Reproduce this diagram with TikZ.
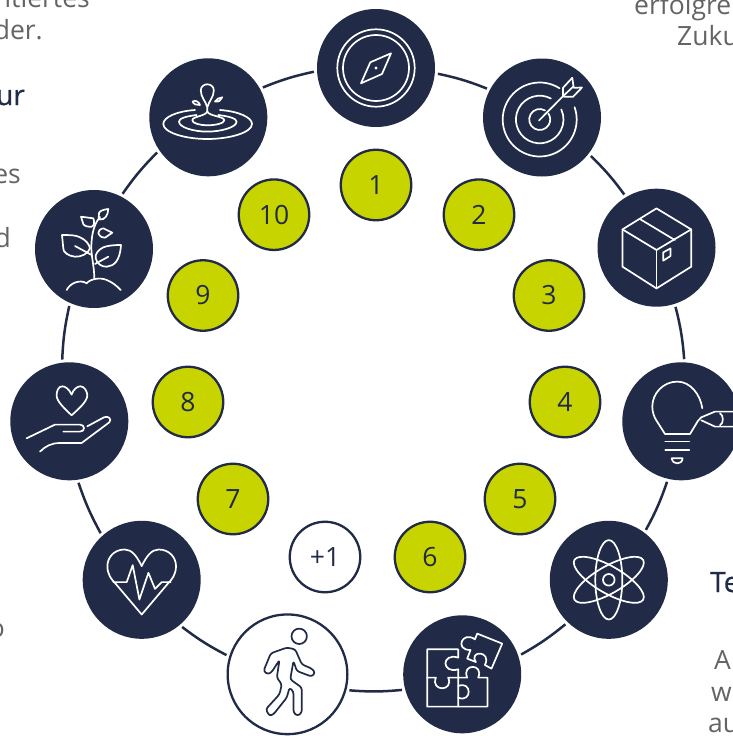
\documentclass[tikz,border=0pt]{standalone}
\usepackage{fontspec}
\setmainfont{Open Sans}
\newfontfamily\headfont[FakeBold=0.6]{Open Sans}
\definecolor{navy}{HTML}{212B47}
\definecolor{lime}{HTML}{C8D400}
\definecolor{greytext}{HTML}{646464}
\tikzset{
  big/.style={circle, fill=navy, minimum size=118pt, inner sep=0pt},
  walkbig/.style={circle, fill=white, draw=navy, line width=2.3pt, minimum size=119.7pt, inner sep=0pt},
  num/.style={circle, fill=lime, draw=navy, line width=2.3pt, minimum size=70.5pt, inner sep=0pt, text=navy, font=\fontsize{26.5}{30}\selectfont},
  plusnum/.style={num, fill=white},
  ringline/.style={navy, line width=2.5pt, shorten >=3pt, shorten <=3pt},
  icon/.style={white, line width=1.7pt, line join=round, line cap=round},
  body/.style={inner sep=0pt, text=greytext, font=\fontsize{26.5}{30}\selectfont},
  head/.style={body, text=navy, font=\fontsize{28}{30}\selectfont\headfont}
}
\begin{document}
\begin{tikzpicture}[x=1pt, y=-1pt]
\useasboundingbox (0,0) rectangle (733,736);
% ring of large circles
\node[big] (big1) at (376,68) {};
\node[big] (big2) at (542,117.5) {};
\node[big] (big3) at (656.5,247.7) {};
\node[big] (big4) at (681.3,421.3) {};
\node[big] (big5) at (608.8,579.8) {};
\node[big] (big6) at (462.2,674.3) {};
\node[walkbig] (big7) at (287.5,674.3) {};
\node[big] (big8) at (141.7,579.8) {};
\node[big] (big9) at (69.3,421.3) {};
\node[big] (big10) at (94,249) {};
\node[big] (big11) at (208.3,117.3) {};
\foreach \a/\b/\s/\e in {1/2/-5.5/152.6,2/3/-38.8/121.2,3/4/-72.7/87.5,4/5/257.8/53,5/6/226.3/18.7,6/7/195/-15.8,7/8/163.5/-50.1,8/9/132.1/-82.6,9/10/97.7/-114.5,10/11/63.7/214.9,11/1/29/183.7}
  \draw[ringline] (big\a.\s) to[bend left=5] (big\b.\e);
% numbers
\foreach \i/\x/\y in {1/376/185,2/479/214.7,3/549/295.5,4/565/402,5/520/499,6/430/557,7/233/499,8/188/402,9/203/295.5,10/274/214.7}
  \node[num] (num\i) at (\x,\y) {\i};
\node[plusnum] (numplus) at (325,557) {+1};
% compass
\begin{scope}[shift={(big1.center)}, icon]
\draw (0,0) circle (38.7);
\draw (0,0) circle (33);
\draw (15,-14.7) -- (-5.7,-5.7) -- (-15,15.3) -- (6,6) -- cycle;
\fill (0,0) circle (1.6);
\end{scope}
% target
\begin{scope}[shift={(big2.center)}, icon]
\draw (-2.3,2) ++(-57.6:37) arc[start angle=-57.6, end angle=-379.5, radius=37];
\draw (-2.3,2) ++(-62:23.8) arc[start angle=-62, end angle=-385, radius=23.8];
\draw (-2.3,2) ++(-60:10.5) arc[start angle=-60, end angle=-395, radius=10.5];
\draw (-3,3) -- (21,-21.3);
\draw (21,-21.3) -- (21,-29.7) -- (30.3,-39.7) -- (31.7,-29.7) -- (40,-30) -- (31,-20.7) -- (22.3,-20.7) -- cycle;
\draw (21,-21.3) -- (31,-30.7);
\end{scope}
% box
\begin{scope}[shift={(big3.center)}, icon]
\draw (0,-39.3) -- (34.7,-18.3) -- (34.7,19) -- (0,40.7) -- (-34,19) -- (-34,-18.3) -- cycle;
\draw (-34,-18.3) -- (0,2.3) -- (34.7,-18.3);
\draw (0,2.3) -- (0,40.7);
\draw (-16,-28.3) -- (18.3,-7.7);
\draw (6.7,4.7) -- (14,0.7) -- (14,8.3) -- (6.7,13) -- cycle;
\end{scope}
% bulb with pencil
\begin{scope}[shift={(big4.center)}, icon]
\draw (21,-13) .. controls (19,-27) and (9,-39.7) .. (-4,-39.7) .. controls (-18,-39.7) and (-29,-28) .. (-29,-14.7) .. controls (-29,-9) and (-27,-4) .. (-25,-1) -- (-16.3,12.7) -- (8.7,12.7) -- (16.7,-0.5) .. controls (17.5,-2) and (18,-3) .. (20,-4) -- (33.7,-9.7) -- (52,-9.7);
\draw (20,-1) -- (33.7,5.3) -- (52,5.3);
\draw (38.7,-8) .. controls (42.5,-6) and (42.5,2) .. (38.7,4);
\draw (-16,20.3) -- (8,20.3);
\draw (-16,29) -- (8,29);
\draw (-9.7,37) -- (1.3,37) .. controls (1,41) and (-2,42) .. (-4,42) .. controls (-6,42) and (-9,41) .. (-9.7,37);
\end{scope}
% atom
\begin{scope}[shift={(big5.center)}, icon]
\draw[rotate=90] (0,0) ellipse (39.7 and 13.5);
\draw[rotate=30] (0,0) ellipse (39.7 and 13.5);
\draw[rotate=-30] (0,0) ellipse (39.7 and 13.5);
\draw (0,0) circle (5.8);
\end{scope}
% puzzle
\begin{scope}[shift={(big6.center)}, icon]
\draw (-35,3.3) -- (-35,-25) -- (-4,-25) -- (-4,-16.7) .. controls (-21,-22) and (-21,0) .. (-4,-5) -- (-4,32.3);
\draw (-35,3.3) -- (-35,32.3) -- (25.3,32.3) -- (25.3,3.3) -- (16,3.3) .. controls (22,-11) and (-1,-11) .. (5,3.3) -- (-14,3.3) .. controls (-8,17.5) and (-32,17.5) .. (-26.3,3.3) -- cycle;
\draw (-4,11.7) .. controls (10,6) and (10,29) .. (-4,23.3);
\draw (15,-40.7) -- (40,-30.7) -- (29.3,-5.7) -- (22.7,-9.3) .. controls (30,-24) and (6,-24) .. (13.7,-12.3) -- (5,-15.7) -- (8.3,-24.3) .. controls (-8,-24) and (0,-44) .. (12.7,-35) -- cycle;
\end{scope}
% walker
\begin{scope}[shift={(big7.center)}, icon, navy]
\draw (11.7,-38) circle (7.7);
\draw[rounded corners=2.5pt] (-0.7,-26.7) -- (-16.7,-21) -- (-24,-3.3) -- (-19.7,0) -- (-16,-2) -- (-8,-14.3) -- (-10.7,3.3) -- (-5.7,10) -- (-8,20) -- (-21.7,35) -- (-18,41.7) -- (-14,40) -- (-0.7,23.3) -- (2,13.3) -- (6,17.3) -- (6,38.3) -- (10,41.7) -- (14.3,38.3) -- (14.3,13.3) -- (2.7,5) -- (6,-13.3) -- (9.3,-3.3) -- (24.3,2.3) -- (27.7,-1.7) -- (24.3,-5.7) -- (14.3,-10) -- (7.7,-25) -- cycle;
\end{scope}
% heart rate
\begin{scope}[shift={(big8.center)}, icon]
\draw (0,-13.7) .. controls (-5,-24) and (-10,-30.3) .. (-17,-30.3) .. controls (-28,-30.3) and (-34.3,-22) .. (-34.3,-13.7) .. controls (-34.3,-5) and (-30,0) .. (-26,4) -- (0,34.7) -- (26,4) .. controls (30,0) and (34.3,-5) .. (34.3,-13.7) .. controls (34.3,-22) and (28,-30.3) .. (17,-30.3) .. controls (10,-30.3) and (5,-24) .. (0,-13.7);
\draw (-28.3,2.3) -- (-15,2.3) -- (-9,-14.7) -- (-2.3,19.7) -- (6.7,-7) -- (13.3,9) -- (20,2.3) -- (29,2.3);
\end{scope}
% hand with heart
\begin{scope}[shift={(big9.center)}, icon]
\draw (2.3,-26.7) .. controls (0,-32) and (-4,-35) .. (-7,-35) .. controls (-11,-35) and (-12.7,-30) .. (-12.7,-26) .. controls (-12.7,-20) and (-5,-13) .. (2.3,-6) .. controls (10,-13) and (18,-20) .. (18,-26) .. controls (18,-30) and (15,-35) .. (11,-35) .. controls (8,-35) and (4,-32) .. (2.3,-26.7);
\draw (-42.7,17) -- (-14.3,3.3) -- (10.7,3.3) .. controls (16,3.3) and (16,10.3) .. (10.7,10.3) -- (-6,10.3);
\draw (18,5) -- (34.7,-4) .. controls (39,-6) and (43,-2) .. (40,1) -- (12.3,21.7) -- (-9.3,21.7) .. controls (-18,21.7) and (-24,25) .. (-29.3,30.3);
\end{scope}
% plant
\begin{scope}[shift={(big10.center)}, icon]
\draw (0.3,29.3) .. controls (0.3,15) and (-4,5) .. (-2.3,-9) .. controls (-1.5,-18) and (1,-26) .. (6,-32);
\draw (-27.3,41) .. controls (-24,34) and (-14,30) .. (-7.3,34.3) .. controls (-4,30) and (6,28) .. (12.7,31) .. controls (18,33) and (23,37) .. (26.7,41);
\draw (-32,-14) .. controls (-25,-14) and (-18,-14) .. (-14,-11.7) .. controls (-8,-9) and (-5,-5) .. (-4,-0.7) .. controls (-6,5) and (-13,8) .. (-19,7.7) .. controls (-26,7) and (-31,3) .. (-30.7,-0.7) -- cycle;
\draw (-19,-3) -- (-2.3,6);
\draw (27,-4) .. controls (20,-4) and (14,-3.5) .. (9.3,-1.7) .. controls (4,1) and (1,5) .. (1.7,9.3) .. controls (3,15) and (8,18) .. (12.7,17.7) .. controls (20,17) and (26,12) .. (27,-4) -- cycle;
\draw (1,15) -- (14.3,7.7);
\draw (14.3,-40) .. controls (10,-39.5) and (6,-38.5) .. (5,-36) .. controls (4,-33) and (5,-30) .. (6,-29.5) .. controls (11,-29) and (14,-34) .. (14.3,-40) -- cycle;
\draw (-13,-32.3) -- (-0.7,-30.7) .. controls (1,-27) and (0,-23) .. (-2.3,-22.3) .. controls (-6,-22) and (-10,-23) .. (-10.7,-25) -- cycle;
\draw (18.3,-16.3) -- (9.3,-20.7) .. controls (6,-20) and (4,-18) .. (4.3,-15.7) .. controls (6,-12) and (9,-11) .. (11,-11.3) -- cycle;
\end{scope}
% water drop
\begin{scope}[shift={(big11.center)}, icon]
\draw (-1,-10) .. controls (-3,-17) and (-7.5,-20) .. (-7.5,-27) .. controls (-7.5,-31) and (-4,-33) .. (-1,-33) .. controls (2,-33) and (5.5,-31) .. (5.5,-27) .. controls (5.5,-20) and (1,-17) .. (-1,-10) -- (-1,-5.7);
\draw (-15.7,-15.7) .. controls (-13,-18) and (-9,-15) .. (-8.3,-12.3) .. controls (-11,-12) and (-15,-13) .. (-15.7,-15.7) -- cycle;
\draw (14,-20) .. controls (11,-20) and (8,-18) .. (6.7,-15.7) .. controls (10,-15) and (13,-17) .. (14,-20) -- cycle;
\draw (-1,-5.7) .. controls (-3,-1) and (-16,-1) .. (-16,3) .. controls (-16,6) and (-8,8) .. (-1,8) .. controls (7,8) and (16,6) .. (16,3) .. controls (16,-1) and (1,-1) .. (-1,-5.7);
\draw (-11.7,-2.3) .. controls (-22,-1) and (-29.3,1) .. (-29.3,4.3) .. controls (-29.3,10) and (-15,14.3) .. (-1,14.3) .. controls (13,14.3) and (28.3,10) .. (28.3,4.3) .. controls (28.3,1) and (20,-1) .. (10,-2.3);
\draw (-13.3,-7.3) .. controls (-32,-6) and (-45,0) .. (-45,6.7) .. controls (-45,15) and (-24,21.7) .. (-1,21.7) .. controls (22,21.7) and (43.7,15) .. (43.7,6.7) .. controls (43.7,0) and (30,-6) .. (11.7,-7.3);
\end{scope}
% cut off text at the edges
\node[body, anchor=base east] (txta) at (90,8) {ntiertes};
\node[body, anchor=base east] (txtb) at (43,39) {der.};
\node[head, anchor=base east] (txtc) at (25,105) {ur};
\node[body, anchor=base east] (txtd) at (21,183) {es};
\node[body, anchor=base east] (txte) at (11,247) {d};
\node[body, anchor=base east] (txtf) at (5,637) {o};
\node[body, anchor=base west] (txtg) at (634,14) {erfolgre};
\node[body, anchor=base west] (txth) at (677,45) {Zuku};
\node[head, anchor=base west] (txti) at (710,592) {Te};
\node[body, anchor=base west] (txtj) at (714,669) {A};
\node[body, anchor=base west] (txtk) at (711,701) {we};
\node[body, anchor=base west] (txtl) at (708,732) {au};
\end{tikzpicture}
\end{document}
